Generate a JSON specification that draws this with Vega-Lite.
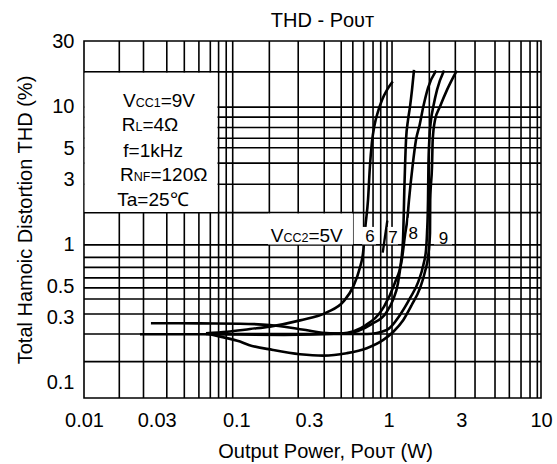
{
  "$schema": "https://vega.github.io/schema/vega-lite/v6.json",
  "width": 457,
  "height": 357,
  "autosize": {"type": "none"},
  "padding": {"left": 84, "top": 41, "right": 16, "bottom": 66},
  "background": "white",
  "title": {"text": "THD - Pᴏᴜᴛ", "fontSize": 20, "font": "Liberation Sans", "fontWeight": "normal", "color": "black", "offset": 0, "dx": 10},
  "config": {
    "font": "Liberation Sans",
    "view": {"stroke": "black", "strokeWidth": 1.6}
  },
  "datasets": {
    "xgrid": [
      {"p": 0.01705}, {"p": 0.02458}, {"p": 0.03496}, {"p": 0.04555}, {"p": 0.05679}, {"p": 0.06748}, {"p": 0.07648}, {"p": 0.08582}, {"p": 0.09467},
      {"p": 0.1647}, {"p": 0.2548}, {"p": 0.3775}, {"p": 0.4881}, {"p": 0.5818}, {"p": 0.6848}, {"p": 0.7896}, {"p": 0.8867}, {"p": 0.9755}, {"p": 1.052},
      {"p": 1.849}, {"p": 2.739}, {"p": 3.689}, {"p": 4.99}, {"p": 6.196}, {"p": 7.394}, {"p": 8.472}, {"p": 9.46}
    ],
    "ygrid": [
      {"thd": 17.93}, {"thd": 9.95}, {"thd": 8.42}, {"thd": 7.08}, {"thd": 5.93}, {"thd": 5.05}, {"thd": 3.91}, {"thd": 2.75}, {"thd": 1.714},
      {"thd": 1.0}, {"thd": 0.812}, {"thd": 0.687}, {"thd": 0.577}, {"thd": 0.488}, {"thd": 0.406}, {"thd": 0.316}, {"thd": 0.2265}, {"thd": 0.1427}
    ],
    "curves": [
      {"vcc": "5V", "p": 0.0632, "thd": 0.229}, {"vcc": "5V", "p": 0.0869, "thd": 0.235}, {"vcc": "5V", "p": 0.123, "thd": 0.246}, {"vcc": "5V", "p": 0.166, "thd": 0.256},
      {"vcc": "5V", "p": 0.262, "thd": 0.284}, {"vcc": "5V", "p": 0.392, "thd": 0.324}, {"vcc": "5V", "p": 0.509, "thd": 0.393}, {"vcc": "5V", "p": 0.588, "thd": 0.505},
      {"vcc": "5V", "p": 0.644, "thd": 0.67}, {"vcc": "5V", "p": 0.679, "thd": 0.875}, {"vcc": "5V", "p": 0.705, "thd": 1.396}, {"vcc": "5V", "p": 0.732, "thd": 2.12},
      {"vcc": "5V", "p": 0.753, "thd": 3.69}, {"vcc": "5V", "p": 0.776, "thd": 5.5}, {"vcc": "5V", "p": 0.808, "thd": 7.4}, {"vcc": "5V", "p": 0.85, "thd": 9.2},
      {"vcc": "5V", "p": 0.9045, "thd": 11.23}, {"vcc": "5V", "p": 0.9755, "thd": 13.28}, {"vcc": "5V", "p": 1.063, "thd": 15.26},

      {"vcc": "6V", "p": 0.0275, "thd": 0.271}, {"vcc": "6V", "p": 0.0577, "thd": 0.27}, {"vcc": "6V", "p": 0.1057, "thd": 0.2685}, {"vcc": "6V", "p": 0.166, "thd": 0.263},
      {"vcc": "6V", "p": 0.27, "thd": 0.244}, {"vcc": "6V", "p": 0.412, "thd": 0.229}, {"vcc": "6V", "p": 0.517, "thd": 0.2284}, {"vcc": "6V", "p": 0.629, "thd": 0.238},
      {"vcc": "6V", "p": 0.778, "thd": 0.2677}, {"vcc": "6V", "p": 0.961, "thd": 0.3216}, {"vcc": "6V", "p": 1.068, "thd": 0.3995}, {"vcc": "6V", "p": 1.152, "thd": 0.53},
      {"vcc": "6V", "p": 1.205, "thd": 0.753}, {"vcc": "6V", "p": 1.242, "thd": 1.087}, {"vcc": "6V", "p": 1.256, "thd": 1.65}, {"vcc": "6V", "p": 1.267, "thd": 2.503},
      {"vcc": "6V", "p": 1.281, "thd": 3.736}, {"vcc": "6V", "p": 1.3, "thd": 5.77}, {"vcc": "6V", "p": 1.34, "thd": 8.05}, {"vcc": "6V", "p": 1.381, "thd": 10.05},
      {"vcc": "6V", "p": 1.423, "thd": 13.28}, {"vcc": "6V", "p": 1.467, "thd": 18.54},

      {"vcc": "7V", "p": 0.0233, "thd": 0.2254}, {"vcc": "7V", "p": 0.0577, "thd": 0.2254}, {"vcc": "7V", "p": 0.2056, "thd": 0.2228}, {"vcc": "7V", "p": 0.487, "thd": 0.2284},
      {"vcc": "7V", "p": 0.71, "thd": 0.263}, {"vcc": "7V", "p": 0.932, "thd": 0.357}, {"vcc": "7V", "p": 1.096, "thd": 0.528}, {"vcc": "7V", "p": 1.22, "thd": 0.779},
      {"vcc": "7V", "p": 1.281, "thd": 1.182}, {"vcc": "7V", "p": 1.324, "thd": 1.518}, {"vcc": "7V", "p": 1.36, "thd": 2.12}, {"vcc": "7V", "p": 1.434, "thd": 3.69},
      {"vcc": "7V", "p": 1.512, "thd": 5.77}, {"vcc": "7V", "p": 1.597, "thd": 7.4}, {"vcc": "7V", "p": 1.689, "thd": 10.05}, {"vcc": "7V", "p": 1.813, "thd": 13.73},
      {"vcc": "7V", "p": 2.046, "thd": 18.32},

      {"vcc": "8V", "p": 0.0632, "thd": 0.2265}, {"vcc": "8V", "p": 0.262, "thd": 0.2265}, {"vcc": "8V", "p": 0.721, "thd": 0.2265}, {"vcc": "8V", "p": 0.971, "thd": 0.242},
      {"vcc": "8V", "p": 1.187, "thd": 0.311}, {"vcc": "8V", "p": 1.381, "thd": 0.411}, {"vcc": "8V", "p": 1.566, "thd": 0.542}, {"vcc": "8V", "p": 1.689, "thd": 0.716},
      {"vcc": "8V", "p": 1.759, "thd": 0.92}, {"vcc": "8V", "p": 1.786, "thd": 1.222}, {"vcc": "8V", "p": 1.813, "thd": 2.12}, {"vcc": "8V", "p": 1.824, "thd": 3.736},
      {"vcc": "8V", "p": 1.849, "thd": 5.77}, {"vcc": "8V", "p": 1.897, "thd": 8.05}, {"vcc": "8V", "p": 1.964, "thd": 10.05}, {"vcc": "8V", "p": 2.077, "thd": 13.28},
      {"vcc": "8V", "p": 2.309, "thd": 18.32},

      {"vcc": "9V", "p": 0.0632, "thd": 0.229}, {"vcc": "9V", "p": 0.0785, "thd": 0.2166}, {"vcc": "9V", "p": 0.1057, "thd": 0.1993}, {"vcc": "9V", "p": 0.1207, "thd": 0.1886},
      {"vcc": "9V", "p": 0.174, "thd": 0.1734}, {"vcc": "9V", "p": 0.262, "thd": 0.1614}, {"vcc": "9V", "p": 0.3724, "thd": 0.1577}, {"vcc": "9V", "p": 0.53, "thd": 0.1642},
      {"vcc": "9V", "p": 0.718, "thd": 0.1785}, {"vcc": "9V", "p": 0.922, "thd": 0.205}, {"vcc": "9V", "p": 1.073, "thd": 0.235}, {"vcc": "9V", "p": 1.248, "thd": 0.286},
      {"vcc": "9V", "p": 1.417, "thd": 0.367}, {"vcc": "9V", "p": 1.606, "thd": 0.486}, {"vcc": "9V", "p": 1.733, "thd": 0.641}, {"vcc": "9V", "p": 1.821, "thd": 0.846},
      {"vcc": "9V", "p": 1.868, "thd": 1.222}, {"vcc": "9V", "p": 1.874, "thd": 2.12}, {"vcc": "9V", "p": 1.926, "thd": 3.736}, {"vcc": "9V", "p": 1.946, "thd": 5.77},
      {"vcc": "9V", "p": 2.016, "thd": 8.05}, {"vcc": "9V", "p": 2.173, "thd": 10.05}, {"vcc": "9V", "p": 2.416, "thd": 13.28}, {"vcc": "9V", "p": 2.798, "thd": 18.32}
    ],
    "leader": [
      {"p": 0.914, "thd": 0.88}, {"p": 0.98, "thd": 1.5}
    ],
    "boxes": [
      {"p": 0.0101, "p2": 0.0752, "thd": 1.734, "thd2": 17.63},
      {"p": 0.1614, "p2": 0.583, "thd": 1.008, "thd2": 1.691},
      {"p": 0.669, "p2": 0.826, "thd": 1.008, "thd2": 1.35},
      {"p": 0.983, "p2": 1.152, "thd": 1.008, "thd2": 1.35},
      {"p": 1.35, "p2": 1.582, "thd": 1.087, "thd2": 1.569},
      {"p": 1.986, "p2": 2.606, "thd": 1.008, "thd2": 1.35}
    ],
    "notes": [
      {"pre": "V", "sub": "CC1", "post": "=9V", "p_pre": 0.01803, "p_sub": 0.02185, "p_post": 0.03188, "thd": 9.95},
      {"pre": "R", "sub": "L", "post": "=4Ω", "p_pre": 0.01768, "p_sub": 0.02175, "p_post": 0.02417, "thd": 6.7},
      {"pre": "", "sub": "", "post": "f=1kHz", "p_pre": 0.01811, "p_sub": 0.01811, "p_post": 0.01811, "thd": 4.364},
      {"pre": "R", "sub": "NF", "post": "=120Ω", "p_pre": 0.01723, "p_sub": 0.0212, "p_post": 0.02729, "thd": 2.924},
      {"pre": "", "sub": "", "post": "Ta=25℃", "p_pre": 0.01654, "p_sub": 0.01654, "p_post": 0.01654, "thd": 1.927},
      {"pre": "V", "sub": "CC2", "post": "=5V", "p_pre": 0.1681, "p_sub": 0.2038, "p_post": 0.2974, "thd": 1.0566}
    ],
    "curveLabels": [
      {"label": "6", "p": 0.7544, "thd": 1.0566},
      {"label": "7", "p": 1.068, "thd": 1.029},
      {"label": "8", "p": 1.452, "thd": 1.105},
      {"label": "9", "p": 2.292, "thd": 1.017}
    ]
  },
  "layer": [
    {
      "data": {"name": "xgrid"},
      "mark": {"type": "rule", "color": "black", "strokeWidth": 1.6},
      "encoding": {
        "x": {
          "field": "p", "type": "quantitative",
          "scale": {"type": "log", "domain": [0.01, 10], "nice": false},
          "axis": {
            "values": [0.01, 0.03, 0.1, 0.3, 1, 3, 10], "format": "~g",
            "title": "Output Power, Pᴏᴜᴛ (W)",
            "labelFont": "Liberation Sans", "titleFont": "Liberation Sans",
            "labelFontSize": 20, "titleFontSize": 20, "titleFontWeight": "normal",
            "labelColor": "black", "titleColor": "black",
            "labelPadding": 12, "titlePadding": 11, "titleX": 241,
            "ticks": false, "domain": false, "grid": false,
            "labelFlush": false, "labelOverlap": false
          }
        }
      }
    },
    {
      "data": {"name": "ygrid"},
      "mark": {"type": "rule", "color": "black", "strokeWidth": 1.6},
      "encoding": {
        "y": {
          "field": "thd", "type": "quantitative",
          "scale": {"type": "log", "domain": [0.0778, 30], "nice": false},
          "axis": {
            "values": [0.1, 0.3, 0.5, 1, 3, 5, 10, 30], "format": "~g",
            "title": "Total Hamoic Distortion THD (%)",
            "labelFont": "Liberation Sans", "titleFont": "Liberation Sans",
            "labelFontSize": 20, "titleFontSize": 20, "titleFontWeight": "normal",
            "labelColor": "black", "titleColor": "black",
            "labelPadding": 10, "titlePadding": 11,
            "ticks": false, "domain": false, "grid": false,
            "labelFlush": false, "labelOverlap": false
          }
        }
      }
    },
    {
      "data": {"name": "curves"},
      "mark": {"type": "line", "color": "black", "strokeWidth": 2.6, "interpolate": "monotone"},
      "encoding": {
        "x": {"field": "p", "type": "quantitative"},
        "y": {"field": "thd", "type": "quantitative"},
        "detail": {"field": "vcc"}
      }
    },
    {
      "data": {"name": "leader"},
      "mark": {"type": "line", "color": "black", "strokeWidth": 2.4},
      "encoding": {
        "x": {"field": "p", "type": "quantitative"},
        "y": {"field": "thd", "type": "quantitative"}
      }
    },
    {
      "data": {"name": "boxes"},
      "mark": {"type": "rect", "color": "white"},
      "encoding": {
        "x": {"field": "p", "type": "quantitative"},
        "x2": {"field": "p2"},
        "y": {"field": "thd", "type": "quantitative"},
        "y2": {"field": "thd2"}
      }
    },
    {
      "data": {"name": "notes"},
      "mark": {"type": "text", "align": "left", "baseline": "alphabetic", "fontSize": 19, "font": "Liberation Sans", "color": "black"},
      "encoding": {
        "x": {"field": "p_pre", "type": "quantitative"},
        "y": {"field": "thd", "type": "quantitative"},
        "text": {"field": "pre"}
      }
    },
    {
      "data": {"name": "notes"},
      "mark": {"type": "text", "align": "left", "baseline": "alphabetic", "fontSize": 12.5, "font": "Liberation Sans", "color": "black"},
      "encoding": {
        "x": {"field": "p_sub", "type": "quantitative"},
        "y": {"field": "thd", "type": "quantitative"},
        "text": {"field": "sub"}
      }
    },
    {
      "data": {"name": "notes"},
      "mark": {"type": "text", "align": "left", "baseline": "alphabetic", "fontSize": 19, "font": "Liberation Sans", "color": "black"},
      "encoding": {
        "x": {"field": "p_post", "type": "quantitative"},
        "y": {"field": "thd", "type": "quantitative"},
        "text": {"field": "post"}
      }
    },
    {
      "data": {"name": "curveLabels"},
      "mark": {"type": "text", "align": "center", "baseline": "alphabetic", "fontSize": 17, "font": "Liberation Sans", "color": "black"},
      "encoding": {
        "x": {"field": "p", "type": "quantitative"},
        "y": {"field": "thd", "type": "quantitative"},
        "text": {"field": "label"}
      }
    }
  ]
}
